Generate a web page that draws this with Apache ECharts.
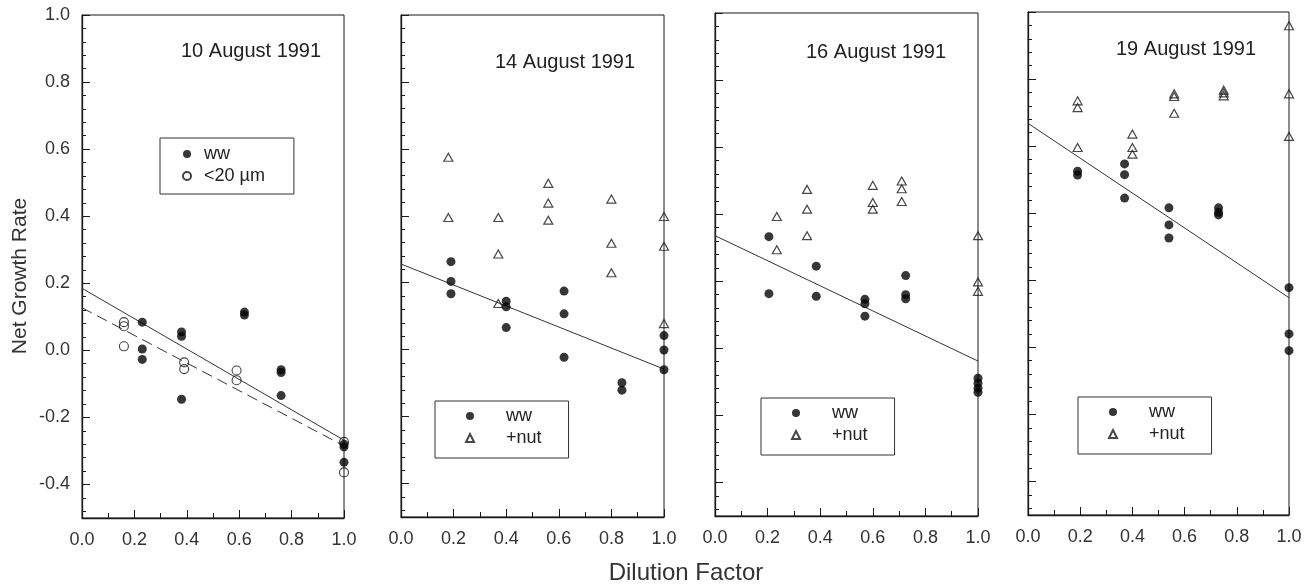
<!DOCTYPE html>
<html>
<head>
<meta charset="utf-8">
<script src="https://cdn.jsdelivr.net/npm/echarts@6/dist/echarts.min.js"></script>
<style>
html,body{margin:0;padding:0;background:#fff;}
#chart{width:1313px;height:587px;}
</style>
</head>
<body>
<div id="chart"></div>
<script>
// ---------- data ----------
var panelTitles = ['10 August 1991', '14 August 1991', '16 August 1991', '19 August 1991'];
var xTickLabels = [0.0, 0.2, 0.4, 0.6, 0.8, 1.0];
var yTickLabels = [-0.4, -0.2, 0.0, 0.2, 0.4, 0.6, 0.8, 1.0];
var yMinorTicks = [-0.48, -0.44, -0.36, -0.32, -0.28, -0.24, -0.16, -0.12, -0.08, -0.04,
                   0.04, 0.08, 0.12, 0.16, 0.24, 0.28, 0.32, 0.36, 0.44, 0.48, 0.52, 0.56,
                   0.64, 0.68, 0.72, 0.76, 0.84, 0.88, 0.92, 0.96];

// 10 August 1991
var ww10 = [[0.23,0.084],[0.23,0.004],[0.23,-0.027],[0.38,0.055],[0.38,0.042],[0.38,-0.146],
            [0.62,0.114],[0.62,0.105],[0.76,-0.058],[0.76,-0.066],[0.76,-0.135],
            [1.0,-0.28],[1.0,-0.288],[1.0,-0.334]];
var lt20_10 = [[0.16,0.084],[0.16,0.072],[0.16,0.012],[0.39,-0.036],[0.39,-0.056],
               [0.59,-0.06],[0.59,-0.089],[1.0,-0.273],[1.0,-0.364]];
var fitWw10 = [[0,0.185],[1,-0.268]];
var fitLt20_10 = [[0,0.127],[1,-0.285]];

// 14 August 1991
var ww14 = [[0.19,0.263],[0.19,0.204],[0.19,0.167],[0.40,0.145],[0.40,0.128],[0.40,0.066],
            [0.62,0.175],[0.62,0.107],[0.62,-0.023],[0.84,-0.099],[0.84,-0.121],
            [1.0,0.042],[1.0,-0.001],[1.0,-0.06]];
var nut14 = [[0.18,0.575],[0.18,0.395],[0.37,0.395],[0.37,0.286],[0.37,0.138],
             [0.56,0.497],[0.56,0.438],[0.56,0.387],[0.80,0.45],[0.80,0.318],[0.80,0.23],
             [1.0,0.398],[1.0,0.309],[1.0,0.078]];
var fit14 = [[0,0.256],[1,-0.058]];

// 16 August 1991
var ww16 = [[0.205,0.333],[0.205,0.163],[0.385,0.245],[0.385,0.155],[0.57,0.146],[0.57,0.133],
            [0.57,0.096],[0.725,0.217],[0.725,0.16],[0.725,0.148],
            [1.0,-0.089],[1.0,-0.104],[1.0,-0.119],[1.0,-0.131]];
var nut16 = [[0.235,0.393],[0.235,0.294],[0.35,0.474],[0.35,0.415],[0.35,0.336],
             [0.60,0.486],[0.60,0.435],[0.60,0.415],[0.71,0.499],[0.71,0.476],[0.71,0.438],
             [1.0,0.336],[1.0,0.198],[1.0,0.17]];
var fit16 = [[0,0.336],[1,-0.038]];

// 19 August 1991
var ww19 = [[0.19,0.525],[0.19,0.514],[0.37,0.547],[0.37,0.515],[0.37,0.445],
            [0.54,0.416],[0.54,0.365],[0.54,0.326],[0.73,0.416],[0.73,0.403],[0.73,0.395],
            [1.0,0.178],[1.0,0.04],[1.0,-0.01]];
var nut19 = [[0.19,0.735],[0.19,0.715],[0.19,0.596],[0.40,0.636],[0.40,0.596],[0.40,0.576],
             [0.56,0.756],[0.56,0.748],[0.56,0.698],[0.75,0.767],[0.75,0.759],[0.75,0.75],
             [1.0,0.959],[1.0,0.756],[1.0,0.629]];
var fit19 = [[0,0.668],[1,0.148]];

// ---------- layout & style ----------
var FONT = '"Liberation Sans", Arial, Helvetica, sans-serif';
var INK = '#1a1a1a';
var grids = [
  {left:82,  top:15, width:262, height:503},
  {left:401, top:15, width:263, height:502},
  {left:715, top:13, width:263, height:503},
  {left:1028,top:12, width:261, height:503}
];
var titlePos = [[181,41],[495,52],[806,42],[1116,39]];
var legendPos = [[160,138],[435,401],[761,398],[1078,397]];

var filledStyle = {color:'#050505', borderColor:'#050505', borderWidth:0};
var openCircleStyle = {color:'rgba(255,255,255,0)', borderColor:'#111', borderWidth:1.1};
var triStyle = {color:'rgba(255,255,255,0)', borderColor:'#1a1a1a', borderWidth:1.2};

var option = {
  animation:false,
  backgroundColor:'#fff',
  grid:[], xAxis:[], yAxis:[], series:[], title:[], legend:[],
  graphic:[
    {type:'text', x:20, y:276, rotation:Math.PI/2,
     style:{text:'Net Growth Rate', font:'21px ' + FONT, fill:'#333', textAlign:'center', textVerticalAlign:'middle'}},
    {type:'text', x:686, y:573,
     style:{text:'Dilution Factor', font:'24px ' + FONT, fill:'#333', textAlign:'center', textVerticalAlign:'middle'}}
  ]
};

for (var i = 0; i < 4; i++) {
  option.grid.push(Object.assign({show:true, borderColor:INK, borderWidth:1, backgroundColor:'rgba(0,0,0,0)'}, grids[i]));
  option.xAxis.push({
    type:'value', gridIndex:i, min:0, max:1, interval:0.2, position:'bottom',
    axisLine:{show:true, onZero:false, lineStyle:{color:INK, width:1.3}},
    axisTick:{show:true, inside:true, length:8, lineStyle:{color:INK, width:1}},
    minorTick:{show:true, splitNumber:2, length:5, lineStyle:{color:INK, width:1}},
    splitLine:{show:false}, minorSplitLine:{show:false},
    axisLabel:{show:true, margin:13, fontSize:18, fontFamily:FONT, color:'#333',
      formatter:function(v){return v.toFixed(1);}}
  });
  option.yAxis.push({
    type:'value', gridIndex:i, min:-0.5, max:1.0, position:'left',
    axisLine:{show:true, onZero:false, lineStyle:{color:INK, width:1.3}},
    axisTick:{show:true, inside:true, length:8, customValues:yTickLabels, lineStyle:{color:INK, width:1}},
    splitLine:{show:false},
    axisLabel:{show:i===0, customValues:yTickLabels, margin:12, fontSize:18, fontFamily:FONT, color:'#333',
      formatter:function(v){return v.toFixed(1);}}
  });
  option.yAxis.push({
    type:'value', gridIndex:i, min:-0.5, max:1.0, position:'left', offset:0,
    axisLine:{show:false, onZero:false},
    axisTick:{show:true, inside:true, length:4, customValues:yMinorTicks, lineStyle:{color:INK, width:1}},
    splitLine:{show:false},
    axisLabel:{show:false}
  });
  option.title.push({
    text:panelTitles[i], left:titlePos[i][0], top:titlePos[i][1], padding:0,
    textStyle:{fontSize:20, fontWeight:'normal', fontFamily:FONT, color:'#222'}
  });
}

function scatter(name, data, gi, symbol, style, size) {
  return {type:'scatter', name:name, xAxisIndex:gi, yAxisIndex:gi*2, data:data,
          symbol:symbol, symbolSize:size, itemStyle:style, clip:false, z:3};
}
function fitLine(name, data, gi, dashed) {
  return {type:'line', name:name, xAxisIndex:gi, yAxisIndex:gi*2, data:data,
          symbol:'none', silent:true, z:2, clip:false,
          lineStyle:{color:'#333', width:1, type: dashed ? [11,6] : 'solid'}};
}

option.series.push(
  fitLine('fit ww 10', fitWw10, 0, false),
  fitLine('fit <20 10', fitLt20_10, 0, true),
  scatter('ww', ww10, 0, 'circle', filledStyle, 9),
  scatter('<20 µm', lt20_10, 0, 'circle', openCircleStyle, 9),

  fitLine('fit 14', fit14, 1, false),
  scatter('ww', ww14, 1, 'circle', filledStyle, 9),
  scatter('+nut', nut14, 1, 'triangle', triStyle, [9,8]),

  fitLine('fit 16', fit16, 2, false),
  scatter('ww', ww16, 2, 'circle', filledStyle, 9),
  scatter('+nut', nut16, 2, 'triangle', triStyle, [9,8]),

  fitLine('fit 19', fit19, 3, false),
  scatter('ww', ww19, 3, 'circle', filledStyle, 9),
  scatter('+nut', nut19, 3, 'triangle', triStyle, [9,8])
);

var legendNames = [['ww','<20 µm'],['ww','+nut'],['ww','+nut'],['ww','+nut']];
for (var j = 0; j < 4; j++) {
  var first = j === 0;
  option.legend.push({
    left:legendPos[j][0], top:legendPos[j][1], orient:'vertical',
    data:legendNames[j], selectedMode:false,
    itemWidth:8, itemHeight:8, itemGap:4,
    padding: first ? [7,29,9,22] : [6,27,11,30],
    borderColor:'#333', borderWidth:1, backgroundColor:'#fff',
    textStyle:{fontSize:18, fontFamily:FONT, color:'#222', padding: first ? [0,0,0,8] : [0,0,0,27]}
  });
}

var chart = echarts.init(document.getElementById('chart'), null, {renderer:'canvas'});
chart.setOption(option);
</script>
</body>
</html>
